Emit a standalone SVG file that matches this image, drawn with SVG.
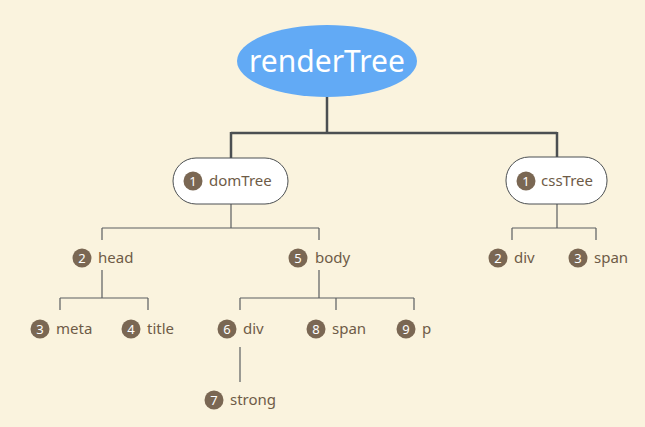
<svg xmlns="http://www.w3.org/2000/svg" width="645" height="427" viewBox="0 0 645 427">
<style>
.bg{fill:#FAF3DE}
.thick{stroke:#4B4F52;stroke-width:2.5;fill:none}
.thin{stroke:#5A5E60;stroke-width:1.2;fill:none}
.pill{fill:#FFFFFF;stroke:#4B4F52;stroke-width:1}
.badge{fill:#7A6753}
.num{fill:#FFFFFF;font-family:"Noto Sans","Open Sans",sans-serif;font-size:13px;text-anchor:middle}
.lbl{fill:#6E5B47;font-family:"Noto Sans","Open Sans",sans-serif;font-size:15px}
.big{fill:#FFFFFF;font-family:"Noto Sans","Open Sans",sans-serif;font-size:30px;text-anchor:middle}
</style>
<rect class="bg" x="0" y="0" width="645" height="427"/>
<g id="connectors">
<path class="thick" d="M327 97V133M231 133H557M231 132V158M557 132V158"/>
<path class="thin" d="M231 204V228M102 228H319M102 228V240M319 228V240"/>
<path class="thin" d="M102 270V298M60 298H148M60 298V310M148 298V310"/>
<path class="thin" d="M319 270V298M240 298H414M240 298V310M336 298V310M414 298V310"/>
<path class="thin" d="M240 347V382"/>
<path class="thin" d="M557 204V228M512 228H596M512 228V240M596 228V240"/>
</g>
<g id="renderTree">
<ellipse cx="327" cy="61" rx="90" ry="36" fill="#62AAF5"/>
<text class="big" x="327" y="72">renderTree</text>
</g>
<g id="domTree">
<rect class="pill" x="173" y="158" width="115" height="46" rx="23"/>
<circle class="badge" cx="193" cy="181" r="9.5"/><text class="num" x="193" y="185.5">1</text>
<text class="lbl" x="209" y="186">domTree</text>
</g>
<g id="cssTree">
<rect class="pill" x="506" y="157" width="101" height="47" rx="23"/>
<circle class="badge" cx="526" cy="181" r="9.5"/><text class="num" x="526" y="185.5">1</text>
<text class="lbl" x="541" y="186">cssTree</text>
</g>
<g id="head">
<circle class="badge" cx="82" cy="258" r="9.5"/><text class="num" x="82" y="262.5">2</text>
<text class="lbl" x="98" y="263">head</text>
</g>
<g id="body">
<circle class="badge" cx="298" cy="258" r="9.5"/><text class="num" x="298" y="262.5">5</text>
<text class="lbl" x="315" y="263">body</text>
</g>
<g id="meta">
<circle class="badge" cx="40" cy="329" r="9.5"/><text class="num" x="40" y="333.5">3</text>
<text class="lbl" x="56" y="334">meta</text>
</g>
<g id="title">
<circle class="badge" cx="131" cy="329" r="9.5"/><text class="num" x="131" y="333.5">4</text>
<text class="lbl" x="147" y="334">title</text>
</g>
<g id="div">
<circle class="badge" cx="227" cy="329" r="9.5"/><text class="num" x="227" y="333.5">6</text>
<text class="lbl" x="243" y="334">div</text>
</g>
<g id="span">
<circle class="badge" cx="316" cy="329" r="9.5"/><text class="num" x="316" y="333.5">8</text>
<text class="lbl" x="332" y="334">span</text>
</g>
<g id="p">
<circle class="badge" cx="406" cy="329" r="9.5"/><text class="num" x="406" y="333.5">9</text>
<text class="lbl" x="422" y="334">p</text>
</g>
<g id="strong">
<circle class="badge" cx="214" cy="400" r="9.5"/><text class="num" x="214" y="404.5">7</text>
<text class="lbl" x="230" y="405">strong</text>
</g>
<g id="css-div">
<circle class="badge" cx="498" cy="258" r="9.5"/><text class="num" x="498" y="262.5">2</text>
<text class="lbl" x="514" y="263">div</text>
</g>
<g id="css-span">
<circle class="badge" cx="578" cy="258" r="9.5"/><text class="num" x="578" y="262.5">3</text>
<text class="lbl" x="594" y="263">span</text>
</g>
</svg>
